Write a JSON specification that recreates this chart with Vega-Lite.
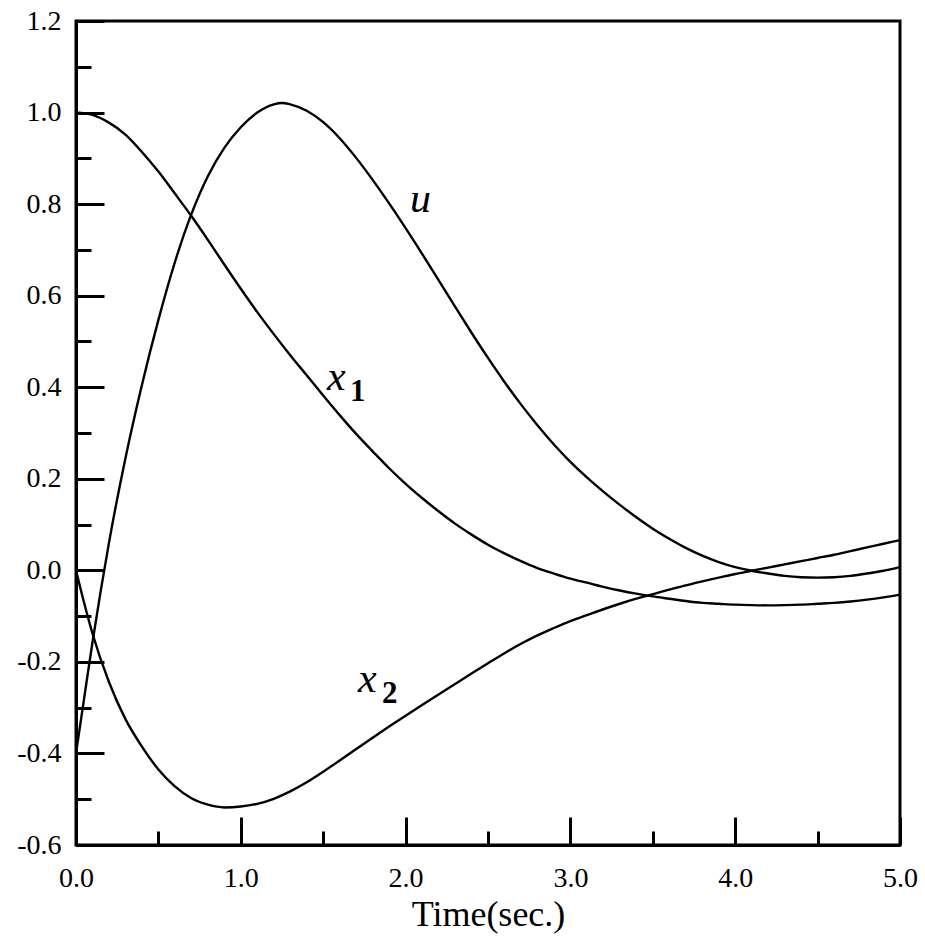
{
  "$schema": "https://vega.github.io/schema/vega-lite/v6.json",
  "width": 824,
  "height": 824,
  "autosize": {"type": "none"},
  "padding": {"left": 76, "top": 21, "right": 25, "bottom": 100},
  "background": "white",
  "config": {
    "view": {"stroke": "black", "strokeWidth": 3},
    "font": "Liberation Serif"
  },
  "datasets": {
    "curves": [
      {"s":"u","t":0,"v":-0.40},{"s":"u","t":0.05,"v":-0.278},{"s":"u","t":0.1,"v":-0.157},{"s":"u","t":0.15,"v":-0.045},{"s":"u","t":0.2,"v":0.06},{"s":"u","t":0.3,"v":0.245},{"s":"u","t":0.4,"v":0.405},{"s":"u","t":0.5,"v":0.547},{"s":"u","t":0.6,"v":0.673},{"s":"u","t":0.7,"v":0.778},{"s":"u","t":0.8,"v":0.861},{"s":"u","t":0.9,"v":0.923},{"s":"u","t":1.0,"v":0.968},{"s":"u","t":1.1,"v":1.0},{"s":"u","t":1.2,"v":1.018},{"s":"u","t":1.25,"v":1.021},{"s":"u","t":1.3,"v":1.018},{"s":"u","t":1.4,"v":1.004},{"s":"u","t":1.5,"v":0.979},{"s":"u","t":1.6,"v":0.944},{"s":"u","t":1.7,"v":0.901},{"s":"u","t":1.8,"v":0.853},{"s":"u","t":1.9,"v":0.8015},{"s":"u","t":2.0,"v":0.7475},{"s":"u","t":2.1,"v":0.6915},{"s":"u","t":2.2,"v":0.634},{"s":"u","t":2.3,"v":0.576},{"s":"u","t":2.4,"v":0.519},{"s":"u","t":2.5,"v":0.464},{"s":"u","t":2.6,"v":0.4115},{"s":"u","t":2.7,"v":0.3625},{"s":"u","t":2.8,"v":0.317},{"s":"u","t":2.9,"v":0.275},{"s":"u","t":3.0,"v":0.237},{"s":"u","t":3.1,"v":0.203},{"s":"u","t":3.2,"v":0.172},{"s":"u","t":3.3,"v":0.143},{"s":"u","t":3.4,"v":0.116},{"s":"u","t":3.5,"v":0.091},{"s":"u","t":3.6,"v":0.069},{"s":"u","t":3.7,"v":0.049},{"s":"u","t":3.8,"v":0.032},{"s":"u","t":3.9,"v":0.018},{"s":"u","t":4.0,"v":0.007},{"s":"u","t":4.1,"v":-0.001},{"s":"u","t":4.2,"v":-0.007},{"s":"u","t":4.3,"v":-0.012},{"s":"u","t":4.4,"v":-0.015},{"s":"u","t":4.5,"v":-0.016},{"s":"u","t":4.6,"v":-0.015},{"s":"u","t":4.7,"v":-0.012},{"s":"u","t":4.8,"v":-0.007},{"s":"u","t":4.9,"v":-0.001},{"s":"u","t":5.0,"v":0.007},
      {"s":"x1","t":0,"v":1.0},{"s":"x1","t":0.1,"v":0.995},{"s":"x1","t":0.2,"v":0.978},{"s":"x1","t":0.3,"v":0.952},{"s":"x1","t":0.4,"v":0.914},{"s":"x1","t":0.5,"v":0.871},{"s":"x1","t":0.6,"v":0.823},{"s":"x1","t":0.7,"v":0.774},{"s":"x1","t":0.8,"v":0.722},{"s":"x1","t":0.9,"v":0.668},{"s":"x1","t":1.0,"v":0.615},{"s":"x1","t":1.1,"v":0.564},{"s":"x1","t":1.2,"v":0.516},{"s":"x1","t":1.3,"v":0.47},{"s":"x1","t":1.4,"v":0.426},{"s":"x1","t":1.5,"v":0.382},{"s":"x1","t":1.6,"v":0.339},{"s":"x1","t":1.7,"v":0.298},{"s":"x1","t":1.8,"v":0.26},{"s":"x1","t":1.9,"v":0.223},{"s":"x1","t":2.0,"v":0.189},{"s":"x1","t":2.1,"v":0.158},{"s":"x1","t":2.2,"v":0.129},{"s":"x1","t":2.3,"v":0.102},{"s":"x1","t":2.4,"v":0.078},{"s":"x1","t":2.5,"v":0.056},{"s":"x1","t":2.6,"v":0.037},{"s":"x1","t":2.7,"v":0.02},{"s":"x1","t":2.8,"v":0.005},{"s":"x1","t":2.9,"v":-0.007},{"s":"x1","t":3.0,"v":-0.018},{"s":"x1","t":3.1,"v":-0.027},{"s":"x1","t":3.2,"v":-0.036},{"s":"x1","t":3.3,"v":-0.044},{"s":"x1","t":3.4,"v":-0.051},{"s":"x1","t":3.5,"v":-0.057},{"s":"x1","t":3.6,"v":-0.062},{"s":"x1","t":3.7,"v":-0.067},{"s":"x1","t":3.8,"v":-0.071},{"s":"x1","t":3.9,"v":-0.073},{"s":"x1","t":4.0,"v":-0.075},{"s":"x1","t":4.1,"v":-0.076},{"s":"x1","t":4.2,"v":-0.0765},{"s":"x1","t":4.3,"v":-0.076},{"s":"x1","t":4.4,"v":-0.075},{"s":"x1","t":4.5,"v":-0.073},{"s":"x1","t":4.6,"v":-0.071},{"s":"x1","t":4.7,"v":-0.068},{"s":"x1","t":4.8,"v":-0.064},{"s":"x1","t":4.9,"v":-0.059},{"s":"x1","t":5.0,"v":-0.053},
      {"s":"x2","t":0,"v":0.0},{"s":"x2","t":0.05,"v":-0.072},{"s":"x2","t":0.1,"v":-0.138},{"s":"x2","t":0.2,"v":-0.244},{"s":"x2","t":0.3,"v":-0.325},{"s":"x2","t":0.4,"v":-0.385},{"s":"x2","t":0.5,"v":-0.435},{"s":"x2","t":0.6,"v":-0.472},{"s":"x2","t":0.7,"v":-0.498},{"s":"x2","t":0.8,"v":-0.512},{"s":"x2","t":0.9,"v":-0.518},{"s":"x2","t":1.0,"v":-0.516},{"s":"x2","t":1.1,"v":-0.51},{"s":"x2","t":1.2,"v":-0.499},{"s":"x2","t":1.3,"v":-0.483},{"s":"x2","t":1.4,"v":-0.463},{"s":"x2","t":1.5,"v":-0.44},{"s":"x2","t":1.6,"v":-0.4155},{"s":"x2","t":1.7,"v":-0.3905},{"s":"x2","t":1.8,"v":-0.3657},{"s":"x2","t":1.9,"v":-0.3414},{"s":"x2","t":2.0,"v":-0.3176},{"s":"x2","t":2.1,"v":-0.2943},{"s":"x2","t":2.2,"v":-0.2713},{"s":"x2","t":2.3,"v":-0.2485},{"s":"x2","t":2.4,"v":-0.2255},{"s":"x2","t":2.5,"v":-0.203},{"s":"x2","t":2.6,"v":-0.181},{"s":"x2","t":2.7,"v":-0.1605},{"s":"x2","t":2.8,"v":-0.142},{"s":"x2","t":2.9,"v":-0.126},{"s":"x2","t":3.0,"v":-0.111},{"s":"x2","t":3.1,"v":-0.098},{"s":"x2","t":3.2,"v":-0.085},{"s":"x2","t":3.3,"v":-0.073},{"s":"x2","t":3.4,"v":-0.062},{"s":"x2","t":3.5,"v":-0.052},{"s":"x2","t":3.6,"v":-0.042},{"s":"x2","t":3.7,"v":-0.033},{"s":"x2","t":3.8,"v":-0.024},{"s":"x2","t":3.9,"v":-0.016},{"s":"x2","t":4.0,"v":-0.008},{"s":"x2","t":4.1,"v":-0.001},{"s":"x2","t":4.2,"v":0.006},{"s":"x2","t":4.3,"v":0.013},{"s":"x2","t":4.4,"v":0.02},{"s":"x2","t":4.5,"v":0.027},{"s":"x2","t":4.6,"v":0.034},{"s":"x2","t":4.7,"v":0.042},{"s":"x2","t":4.8,"v":0.05},{"s":"x2","t":4.9,"v":0.058},{"s":"x2","t":5.0,"v":0.066}
    ],
    "mainLabels": [
      {"t":2.027,"v":0.783,"text":"u"},
      {"t":1.523,"v":0.394,"text":"x"},
      {"t":1.711,"v":-0.265,"text":"x"}
    ],
    "subLabels": [
      {"t":1.663,"v":0.370,"text":"1"},
      {"t":1.857,"v":-0.290,"text":"2"}
    ]
  },
  "resolve": {"axis": {"x": "independent", "y": "independent"}},
  "layer": [
    {
      "data": {"name": "curves"},
      "mark": {"type": "line", "color": "black", "strokeWidth": 2.4, "interpolate": "monotone"},
      "encoding": {
        "x": {"field": "t", "type": "quantitative",
          "scale": {"domain": [0, 5], "nice": false, "zero": false},
          "axis": {"orient": "bottom", "values": [0,1,2,3,4,5], "labelExpr": "replace(format(datum.value, '.1f'), '\u2212', '-')",
            "tickSize": -28, "tickWidth": 3, "tickColor": "black", "domainColor": "black", "domainWidth": 3,
            "labelFont": "Liberation Serif", "labelFontSize": 28, "labelColor": "black", "labelPadding": 47, "labelFlush": false,
            "grid": false, "title": "Time(sec.)", "titleFont": "Liberation Serif", "titleFontSize": 36, "titleFontWeight": "normal", "titleColor": "black", "titlePadding": 5}},
        "y": {"field": "v", "type": "quantitative",
          "scale": {"domain": [-0.6, 1.2], "nice": false, "zero": false},
          "axis": {"orient": "left", "values": [-0.6,-0.4,-0.2,0,0.2,0.4,0.6,0.8,1.0,1.2], "labelExpr": "replace(format(datum.value, '.1f'), '\u2212', '-')",
            "tickSize": -28, "tickWidth": 3, "tickColor": "black", "domainColor": "black", "domainWidth": 3,
            "labelFont": "Liberation Serif", "labelFontSize": 28, "labelColor": "black", "labelPadding": 43, "labelFlush": false,
            "grid": false, "title": null}},
        "detail": {"field": "s", "type": "nominal"}
      }
    },
    {
      "data": {"name": "mainLabels"},
      "mark": {"type": "text", "font": "Liberation Serif", "fontStyle": "italic", "fontSize": 42, "align": "left", "baseline": "alphabetic", "color": "black"},
      "encoding": {
        "x": {"field": "t", "type": "quantitative",
          "axis": {"orient": "bottom", "values": [0.5,1.5,2.5,3.5,4.5], "labels": false, "domain": false, "grid": false, "tickSize": -14, "tickWidth": 3, "tickColor": "black", "title": null}},
        "y": {"field": "v", "type": "quantitative",
          "axis": {"orient": "left", "values": [-0.5,-0.3,-0.1,0.1,0.3,0.5,0.7,0.9,1.1], "labels": false, "domain": false, "grid": false, "tickSize": -15, "tickWidth": 3, "tickColor": "black", "title": null}},
        "text": {"field": "text"}
      }
    },
    {
      "data": {"name": "subLabels"},
      "mark": {"type": "text", "font": "Liberation Serif", "fontWeight": "bold", "fontSize": 31, "align": "left", "baseline": "alphabetic", "color": "black"},
      "encoding": {
        "x": {"field": "t", "type": "quantitative", "axis": null},
        "y": {"field": "v", "type": "quantitative", "axis": null},
        "text": {"field": "text"}
      }
    }
  ]
}
